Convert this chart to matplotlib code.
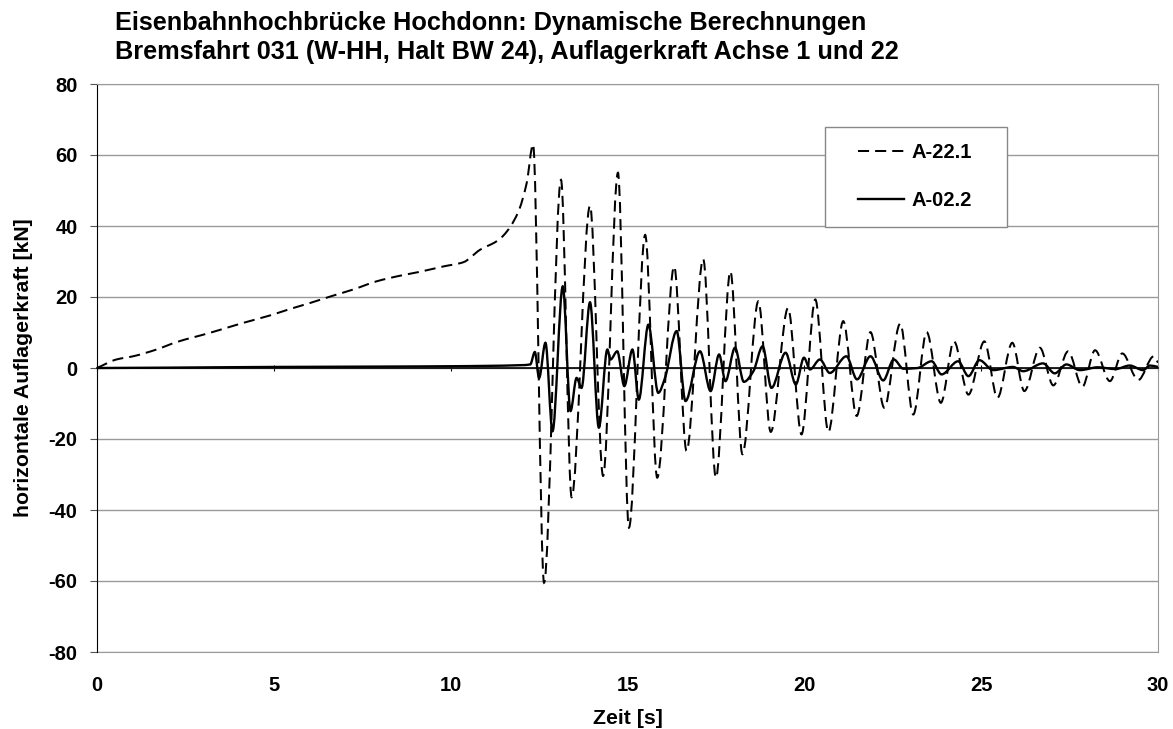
import numpy as np
import matplotlib
matplotlib.use('Agg')
import matplotlib.pyplot as plt
from matplotlib.path import Path
from matplotlib.patches import PathPatch, Rectangle
from matplotlib.lines import Line2D

# ---------------- data ----------------
t_a221 = [0, 0.55, 1.02, 1.68, 2.25, 3.19, 3.66, 4.13, 4.89, 5.45, 6.02, 6.68, 7.24, 7.9,
          8.57, 9.13, 9.79, 10.36, 10.83, 11.3, 11.49, 11.9, 12.15, 12.33, 12.64, 13.12,
          13.42, 13.94, 14.31, 14.73, 15.04, 15.5, 15.84, 16.32, 16.67, 17.14, 17.5, 17.91,
          18.25, 18.7, 19.05, 19.54, 19.92, 20.31, 20.68, 21.1, 21.48, 21.87, 22.26, 22.71,
          23.08, 23.46, 23.86, 24.23, 24.64, 25.09, 25.46, 25.88, 26.22, 26.66, 27.04, 27.46,
          27.86, 28.22, 28.64, 28.99, 29.44, 29.88, 30]
v_a221 = [0, 2.4, 3.3, 5.2, 7.3, 9.9, 11.3, 12.7, 14.8, 16.6, 18.3, 20.4, 22.1, 24.4,
          26.0, 27.1, 28.6, 29.8, 33.3, 35.7, 37.3, 43.7, 52.1, 63.0, -60.5, 53.0,
          -36.4, 45.7, -30.4, 55.0, -45.0, 37.5, -30.9, 28.6, -23.4, 30.7, -30.9, 27.2,
          -24.3, 18.8, -18.0, 16.9, -18.7, 19.3, -18.0, 13.2, -13.5, 10.1, -11.2, 12.5,
          -13.1, 10.1, -9.8, 7.5, -7.5, 7.5, -8.4, 7.1, -6.5, 5.7, -4.9, 4.7,
          -5.3, 5.0, -3.7, 4.1, -3.4, 3.3, 1.5]

t_a022 = [0, 2, 5, 8, 10, 11, 12, 12.25, 12.38, 12.5, 12.68, 12.88, 13.17, 13.39, 13.56,
          13.7, 13.94, 14.19, 14.43, 14.52, 14.71, 14.91, 15.14, 15.32, 15.59, 15.87, 16.06,
          16.39, 16.64, 17.05, 17.35, 17.59, 17.77, 18.04, 18.29, 18.56, 18.82, 19.07, 19.47,
          19.76, 19.99, 20.16, 20.44, 20.72, 21.19, 21.49, 21.87, 22.23, 22.53, 22.8, 23.2,
          23.6, 23.88, 24.35, 24.64, 24.95, 25.34, 25.9, 26.19, 26.75, 27.08, 27.41, 27.79,
          28.3, 28.8, 29.2, 29.58, 29.77, 30]
v_a022 = [0, 0.1, 0.3, 0.4, 0.5, 0.6, 0.8, 1.0, 4.5, -2.8, 7.1, -17.8, 23.0, -12.1, -2.8,
          -5.6, 18.5, -16.8, 5.2, 2.4, 4.7, -5.1, 5.2, -8.9, 12.2, -7.0, -2.8,
          10.4, -9.3, 4.7, -6.5, 3.8, -3.7, 5.7, -3.9, -0.9, 6.1, -5.6, 4.3,
          -4.6, 2.9, -0.4, 2.4, -1.4, 3.3, -3.2, 3.3, -3.5, 2.4, -0.2, 0.0,
          1.9, -1.8, 1.9, -2.3, 2.2, -0.6, 0.3, -0.9, 1.3, -1.5, 1.0, -0.6,
          0.2, -0.3, 0.7, -0.6, 0.7, 0.3]

series_names = ["A-22.1", "A-02.2"]
x_ticks = [0, 5, 10, 15, 20, 25, 30]
y_ticks = [-80, -60, -40, -20, 0, 20, 40, 60, 80]
title_line1 = "Eisenbahnhochbrücke Hochdonn: Dynamische Berechnungen"
title_line2 = "Bremsfahrt 031 (W-HH, Halt BW 24), Auflagerkraft Achse 1 und 22"
x_label = "Zeit [s]"
y_label = "horizontale Auflagerkraft [kN]"

# ---------------- style ----------------
plt.rcParams['font.family'] = ['Liberation Sans', 'DejaVu Sans']
plt.rcParams['font.weight'] = 'bold'
plt.rcParams['axes.unicode_minus'] = False
GRID = '#9a9a9a'
TICK_FS = 14.5
LABEL_FS = 15.3
TITLE_FS = 18.2


def smooth_path(t, v):
    """Smoothed line (like a spreadsheet 'smoothed line') as cubic Bezier path."""
    t = np.asarray(t, float)
    v = np.asarray(v, float)
    h = np.diff(t)
    d = np.diff(v) / h
    m = np.zeros_like(v)
    for i in range(1, len(v) - 1):
        if d[i - 1] * d[i] > 0:
            w1 = 2 * h[i] + h[i - 1]
            w2 = h[i] + 2 * h[i - 1]
            m[i] = (w1 + w2) / (w1 / d[i - 1] + w2 / d[i])
    m[0] = d[0]
    m[-1] = d[-1]
    verts = [(t[0], v[0])]
    codes = [Path.MOVETO]
    for i in range(len(t) - 1):
        verts += [(t[i] + h[i] / 3, v[i] + m[i] * h[i] / 3),
                  (t[i + 1] - h[i] / 3, v[i + 1] - m[i + 1] * h[i] / 3),
                  (t[i + 1], v[i + 1])]
        codes += [Path.CURVE4] * 3
    return Path(verts, codes)


fig = plt.figure(figsize=(11.73, 7.29), dpi=100)
ax = fig.add_axes([97 / 1173, 1 - 652 / 729, (1158 - 97) / 1173, (652 - 84) / 729])

ax.set_xlim(0, 30)
ax.set_ylim(-80, 80)
ax.set_yticks(y_ticks)
ax.yaxis.grid(True, color=GRID, lw=1.0)
ax.set_axisbelow(True)

style_a = dict(color='black', lw=1.45, linestyle=(0, (5.5, 3)))
style_b = dict(color='black', lw=1.7, linestyle='-')

ax.add_patch(PathPatch(smooth_path(t_a221, v_a221), fill=False, capstyle='butt', **style_a))
ax.add_patch(PathPatch(smooth_path(t_a022, v_a022), fill=False, **style_b))

# spines
ax.spines['left'].set_color('black')
ax.spines['top'].set_color(GRID)
ax.spines['right'].set_color(GRID)
ax.spines['bottom'].set_position(('data', 0))
ax.spines['bottom'].set_color('black')
ax.spines['bottom'].set_linewidth(1.2)

ax.set_xticks(x_ticks)
ax.tick_params(axis='x', direction='inout', length=5, labelbottom=False, color='black')
ax.tick_params(axis='y', direction='out', length=5, pad=9, labelsize=TICK_FS, color='#555555')

sec = ax.secondary_xaxis(0.0)
sec.set_xticks(x_ticks)
sec.tick_params(length=0, pad=17, labelsize=TICK_FS)
sec.spines['bottom'].set_color(GRID)
sec.set_xlabel(x_label, fontsize=LABEL_FS, fontweight='bold', labelpad=10)

ax.set_ylabel(y_label, fontsize=LABEL_FS, fontweight='bold', labelpad=11)

# legend
ax.add_patch(Rectangle(((825 - 97) / 1061, (652 - 226.7) / 568), 182 / 1061, 100 / 568,
                       transform=ax.transAxes, facecolor='white', edgecolor='#888888',
                       lw=1.0, zorder=4))
handles = [Line2D([], [], **style_a), Line2D([], [], **style_b)]
leg = ax.legend(handles, series_names, loc='center', bbox_to_anchor=(0.771, 0.837),
                frameon=False, handlelength=2.3, handletextpad=0.35,
                labelspacing=1.45, prop={'weight': 'bold', 'size': 14.5})
leg.set_zorder(5)

fig.text(115 / 1173, 1 - 30 / 729, title_line1, ha='left', va='baseline',
         fontsize=TITLE_FS, fontweight='bold')
fig.text(115 / 1173, 1 - 59.3 / 729, title_line2, ha='left', va='baseline',
         fontsize=TITLE_FS, fontweight='bold')

fig.savefig('out.png', dpi=100)
